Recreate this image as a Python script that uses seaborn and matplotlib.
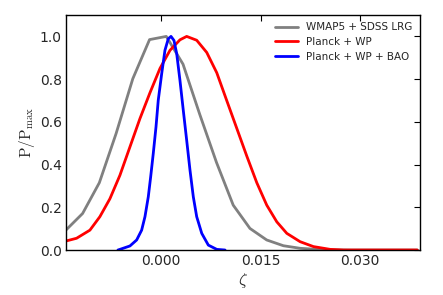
import numpy as np
import matplotlib
matplotlib.use("Agg")
import matplotlib.pyplot as plt
import seaborn as sns

# WMAP5 + SDSS LRG (coarse grid)
wmap_x = [-0.01432, -0.0118, -0.00928, -0.00676, -0.00424, -0.00172, 0.0008,
          0.00332, 0.00584, 0.00836, 0.01088, 0.0134, 0.01592, 0.01844,
          0.02096, 0.02348, 0.026, 0.02852, 0.03104, 0.03356, 0.03608, 0.0386]
wmap_y = [0.093, 0.171, 0.315, 0.545, 0.802, 0.985, 1.0,
          0.87, 0.635, 0.41, 0.21, 0.101, 0.047, 0.02,
          0.008, 0.003, 0.001, 0.0, 0.0, 0.0, 0.0, 0.0]

# Planck + WP
planck_x = [-0.01432, -0.01271, -0.0107, -0.0092, -0.00769, -0.00618, -0.00467,
            -0.00317, -0.00166, -0.00015, 0.00136, 0.00286, 0.00387, 0.00538,
            0.00689, 0.0084, 0.0099, 0.01141, 0.01292, 0.01443, 0.01593,
            0.01744, 0.01895, 0.02095, 0.02296, 0.02548, 0.02748, 0.03, 0.0386]
planck_y = [0.042, 0.055, 0.093, 0.156, 0.24, 0.35, 0.483,
            0.615, 0.736, 0.85, 0.935, 0.984, 1.0, 0.982,
            0.925, 0.83, 0.70, 0.57, 0.44, 0.315, 0.21,
            0.132, 0.078, 0.039, 0.016, 0.003, 0.0, 0.0, 0.0]

# Planck + WP + BAO
bao_x = [-0.00648, -0.00618, -0.00467, -0.00366, -0.00291, -0.00241, -0.00191,
         -0.00155, -0.00116, -0.00075, -0.00041, 0.00011, 0.0006, 0.0011,
         0.00151, 0.00196, 0.00237, 0.00286, 0.00336, 0.00387, 0.00437,
         0.00487, 0.00538, 0.00614, 0.00713, 0.0084, 0.00965]
bao_y = [0.0, 0.003, 0.019, 0.047, 0.093, 0.156, 0.249,
         0.343, 0.452, 0.576, 0.701, 0.826, 0.935, 0.989,
         1.0, 0.981, 0.919, 0.794, 0.654, 0.514, 0.374,
         0.249, 0.156, 0.078, 0.023, 0.003, 0.0]

sns.set_style("white")
plt.rcParams['font.family'] = ['DejaVu Sans']
plt.rcParams['mathtext.fontset'] = 'cm'
plt.rcParams['xtick.direction'] = 'in'
plt.rcParams['ytick.direction'] = 'in'

fig = plt.figure(figsize=(4.43, 2.95), dpi=100)
ax = fig.add_axes([0.149, 0.1525, 0.799, 0.7965])

sns.lineplot(x=wmap_x, y=wmap_y, color="gray", lw=2, label="WMAP5 + SDSS LRG", ax=ax)
sns.lineplot(x=planck_x, y=planck_y, color="red", lw=2, label="Planck + WP", ax=ax)
sns.lineplot(x=bao_x, y=bao_y, color="blue", lw=2, label="Planck + WP + BAO", ax=ax)

ax.set_xlim(-0.0143, 0.039)
ax.set_ylim(0, 1.1)
ax.set_xticks([0.0, 0.015, 0.030])
ax.set_xticklabels(["0.000", "0.015", "0.030"])
ax.set_yticks([0.0, 0.2, 0.4, 0.6, 0.8, 1.0])
ax.set_yticklabels(["0.0", "0.2", "0.4", "0.6", "0.8", "1.0"])
ax.tick_params(axis="both", which="major", labelsize=10, length=4, width=0.8,
               top=True, right=True, color="black", pad=3)
for s in ax.spines.values():
    s.set_color("black")
    s.set_linewidth(1)

ax.set_xlabel(r"$\zeta$", fontsize=12, labelpad=2)
ax.set_ylabel(r"$\mathrm{P/P_{max}}$", fontsize=11, labelpad=2)

ax.legend(loc="upper right", frameon=False, fontsize=7.5, handlelength=2.2,
          labelspacing=0.45, borderaxespad=0.3)

fig.savefig("out.png", dpi=100)
